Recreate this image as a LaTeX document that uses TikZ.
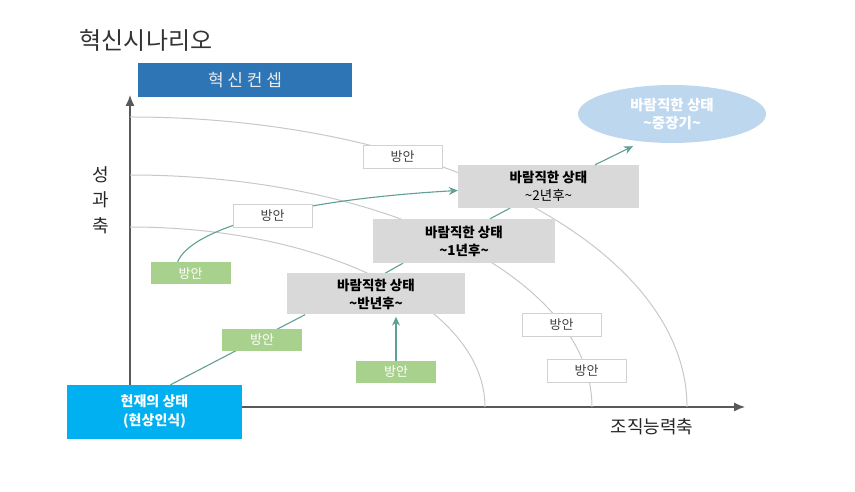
\documentclass[tikz,border=0pt]{standalone}
\usepackage{fontspec}
\setmainfont{Noto Sans CJK KR}
\usetikzlibrary{arrows.meta,shapes.geometric,backgrounds}
\definecolor{conceptblue}{RGB}{46,117,182}
\definecolor{nowblue}{RGB}{0,176,240}
\definecolor{idealgray}{RGB}{217,217,217}
\definecolor{planegreen}{RGB}{169,209,142}
\definecolor{goalblue}{RGB}{189,215,238}
\definecolor{linkteal}{RGB}{95,160,150}
\definecolor{arcgray}{RGB}{200,200,200}
\newcommand{\wave}{\textasciitilde}
\tikzset{
  axis/.style={draw=black!65,line width=1.3pt,-{Latex[length=11pt,width=9pt]}},
  arcline/.style={draw=arcgray,line width=1pt},
  link/.style={draw=linkteal,line width=1.1pt},
  linkarrow/.style={link,-{Stealth[length=9pt,width=8pt]}},
  planbox/.style={draw=black!18,fill=white,line width=0.8pt,minimum width=79pt,minimum height=23pt,inner sep=0pt,text=black!75,font=\fontsize{13}{15}\selectfont},
  greenbox/.style={fill=planegreen,minimum width=80pt,minimum height=22pt,inner sep=0pt,text=white,font=\fontsize{13}{15}\selectfont},
  idealbox/.style={fill=idealgray,inner sep=0pt,align=center,font=\bfseries\fontsize{13.5}{18}\selectfont}
}
\begin{document}
\begin{tikzpicture}[x=1pt,y=1pt]
\useasboundingbox (0,0) rectangle (855,492);
\coordinate (origin) at (130,85);
\coordinate (ytop) at (130,397);
\coordinate (xend) at (745,85);

\node[text=black!80,font=\fontsize{24}{26}\selectfont] (title) at (146,452) {혁신시나리오};
\node[fill=conceptblue,minimum width=214pt,minimum height=34pt,text=white!92!black,font=\fontsize{17}{19}\selectfont] (concept) at (245,412) {혁 신 컨 셉};
\node[align=center,text=black!85,font=\fontsize{18}{25.5}\selectfont] (ylabel) at (101,292) {성\\과\\축};
\node[text=black!85,font=\fontsize{18}{20}\selectfont] (xlabel) at (652,65) {조직능력축};

\node[planbox] (w1) at (402.5,335.5) {방안};
\node[planbox] (w2) at (272.5,276.5) {방안};
\node[planbox] (w3) at (561.5,167.5) {방안};
\node[planbox] (w4) at (586.5,121) {방안};
\node[greenbox] (g1) at (190.5,218.5) {방안};
\node[greenbox] (g2) at (262,152) {방안};
\node[greenbox] (g3) at (396,120) {방안};

\node[idealbox,minimum width=178pt,minimum height=41pt] (s1) at (376,198) {바람직한 상태\\\wave 반년후\wave};
\node[idealbox,minimum width=182pt,minimum height=44pt] (s2) at (464,251) {바람직한 상태\\\wave 1년후\wave};
\node[idealbox,minimum width=181pt,minimum height=43pt] (s3) at (548.5,305.5) {바람직한 상태\\{\mdseries\wave 2년후\wave}};
\node[ellipse,fill=goalblue,minimum width=188pt,minimum height=58pt,inner sep=0pt,align=center,text=white,font=\bfseries\fontsize{14.5}{18}\selectfont] (goal) at (672,378) {바람직한 상태\\\wave 중장기\wave};
\node[fill=nowblue,minimum width=175pt,minimum height=54pt,inner sep=0pt,align=center,text=white,font=\bfseries\fontsize{14}{19}\selectfont] (now) at (154.5,80) {현재의 상태\\(현상인식)};

\begin{scope}[on background layer]
\draw[axis] (origin) -- (ytop);
\draw[axis] (origin) -- (xend);
\draw[arcline] (130,375) arc[start angle=90,end angle=0,x radius=557,y radius=290];
\draw[arcline] (130,317) arc[start angle=90,end angle=0,x radius=462,y radius=232];
\draw[arcline] (130,265) arc[start angle=90,end angle=0,x radius=355,y radius=180];
\draw[link] ([xshift=16pt]now.north) -- ([xshift=-71pt]s1.south);
\draw[link] ([xshift=9pt]s1.north) -- ([xshift=-61pt]s2.south);
\draw[link] ([xshift=26pt]s2.north) -- ([xshift=-38.5pt]s3.south);
\draw[linkarrow] ([xshift=-13pt]g1.north) .. controls +(12.5,33) and +(-168,-9.5) .. ([yshift=-4pt]s3.west);
\end{scope}
\draw[linkarrow] ([xshift=46.5pt]s3.north) -- ([xshift=-39pt,yshift=-3pt]goal.south);
\draw[linkarrow,shorten >=2pt] (g3.north) -- (g3.north |- s1.south);
\end{tikzpicture}
\end{document}
